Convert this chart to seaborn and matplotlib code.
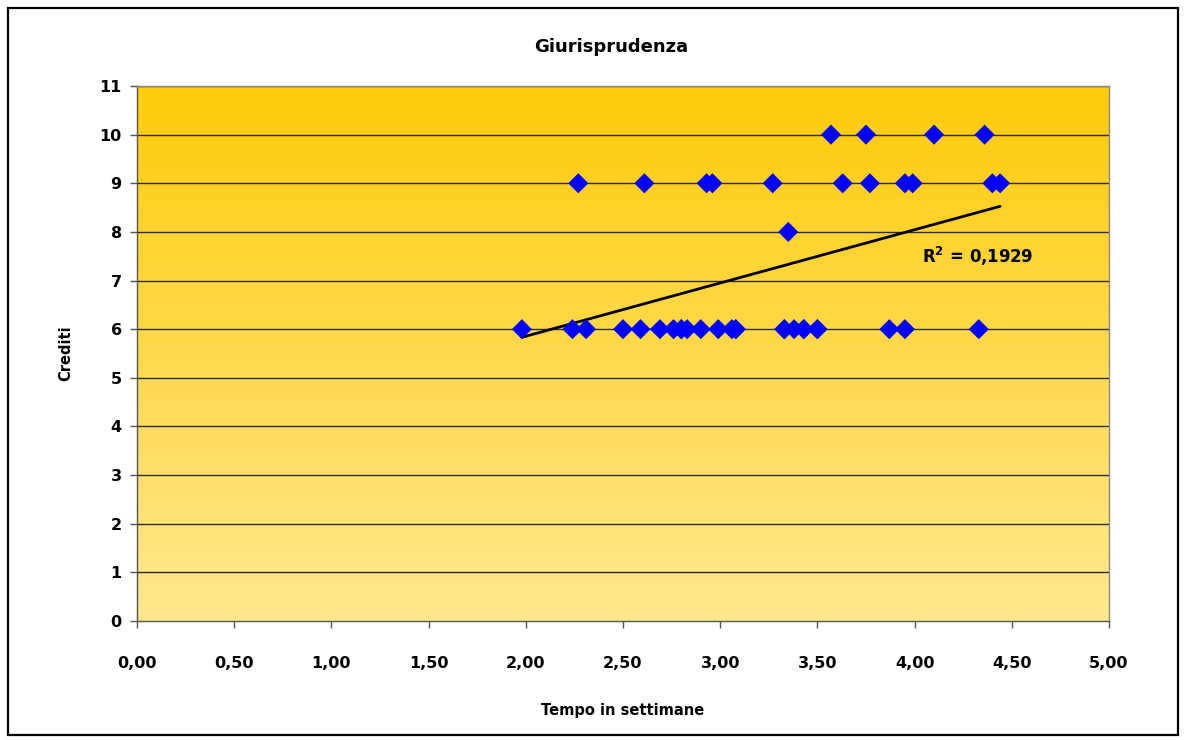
import numpy as np
import pandas as pd
import matplotlib
matplotlib.use("Agg")
import matplotlib.pyplot as plt
import seaborn as sns
from matplotlib.patches import Rectangle
from matplotlib.colors import LinearSegmentedColormap

# ---- data ----
# visible points with 6 credits
tempo_6 = [1.98, 2.24, 2.31, 2.50, 2.59, 2.69, 2.76, 2.80, 2.83, 2.90, 2.99,
           3.06, 3.08, 3.33, 3.38, 3.43, 3.50, 3.87, 3.95, 4.33]
# overlapping (hidden) points with 6 credits, implied by the trend line / R²
tempo_6_overlap = [2.80, 3.08, 3.33, 3.43, 3.50]
tempo_8 = [3.35]
tempo_9 = [2.27, 2.61, 2.93, 2.96, 3.27, 3.63, 3.77, 3.95, 3.99, 4.40, 4.44]
tempo_10 = [3.57, 3.75, 4.10, 4.36]

x_ticks = [0.0, 0.5, 1.0, 1.5, 2.0, 2.5, 3.0, 3.5, 4.0, 4.5, 5.0]
x_tick_labels = ["0,00", "0,50", "1,00", "1,50", "2,00", "2,50",
                 "3,00", "3,50", "4,00", "4,50", "5,00"]
y_ticks = [0, 1, 2, 3, 4, 5, 6, 7, 8, 9, 10, 11]
y_tick_labels = ["0", "1", "2", "3", "4", "5", "6", "7", "8", "9", "10", "11"]

title = "Giurisprudenza"
x_label = "Tempo in settimane"
y_label = "Crediti"
r2_text = "R$^2$ = 0,1929"

tempo = tempo_6 + tempo_6_overlap + tempo_8 + tempo_9 + tempo_10
crediti = ([6] * (len(tempo_6) + len(tempo_6_overlap)) + [8] * len(tempo_8) +
           [9] * len(tempo_9) + [10] * len(tempo_10))
df = pd.DataFrame({"Tempo": tempo, "Crediti": crediti})

# ---- figure ----
sns.set_theme(style="white")
plt.rcParams["font.family"] = ["DejaVu Sans"]
plt.rcParams["font.weight"] = "bold"
plt.rcParams["text.color"] = "black"
plt.rcParams["xtick.color"] = "black"
plt.rcParams["ytick.color"] = "black"

fig = plt.figure(figsize=(11.84, 7.40), dpi=100)
fig.patches.append(Rectangle((8 / 1184, 5 / 740), 1170 / 1184, 727 / 740,
                             transform=fig.transFigure, fill=False,
                             edgecolor="black", linewidth=1.6, zorder=0))

ax = fig.add_axes([137 / 1184, 1 - 621 / 740, 972 / 1184, 535 / 740])

# gradient background
grad = np.linspace(0, 1, 256).reshape(-1, 1)
cmap = LinearSegmentedColormap.from_list("bg", ["#FFE890", "#FFCB0A"])
ax.imshow(grad, extent=[0, 5, 0, 11], origin="lower", aspect="auto",
          cmap=cmap, zorder=0)

for yv in y_ticks[1:]:
    ax.axhline(yv, color="#2b2b2b", linewidth=1.0, zorder=1)

sns.regplot(data=df, x="Tempo", y="Crediti", ax=ax, ci=None,
            scatter=False, truncate=True,
            line_kws={"color": "black", "linewidth": 2.0, "zorder": 3})
sns.scatterplot(data=df, x="Tempo", y="Crediti", ax=ax, marker="D",
                s=105, color="#0000FF", edgecolor="none", linewidth=0,
                zorder=4)

ax.set_xlim(0, 5)
ax.set_ylim(0, 11)
ax.set_xticks(x_ticks)
ax.set_xticklabels(x_tick_labels, fontsize=11.5, fontweight="bold")
ax.set_yticks(y_ticks)
ax.set_yticklabels(y_tick_labels, fontsize=11.5, fontweight="bold")
ax.tick_params(axis="both", direction="out", length=5, width=1,
               color="#555555", labelcolor="black", bottom=True, left=True,
               pad=6)
ax.tick_params(axis="x", pad=20)

for side in ["top", "right"]:
    ax.spines[side].set_color("#888888")
    ax.spines[side].set_linewidth(1.0)
for side in ["left", "bottom"]:
    ax.spines[side].set_color("#555555")
    ax.spines[side].set_linewidth(1.0)

ax.set_xlabel("")
ax.set_ylabel("")
fig.text(611 / 1184, 1 - 47 / 740, title, ha="center", va="center",
         fontsize=13, fontweight="bold", color="black")
fig.text(623 / 1184, 1 - 711 / 740, x_label, ha="center", va="center",
         fontsize=10.5, fontweight="bold", color="black")
fig.text(66 / 1184, 1 - 353 / 740, y_label, ha="center", va="center",
         rotation=90, fontsize=10.5, fontweight="bold", color="black")

ax.text(4.04, 7.5, r2_text, ha="left", va="center", fontsize=12,
        fontweight="bold", color="black", zorder=5)

fig.savefig("out.png", dpi=100)
